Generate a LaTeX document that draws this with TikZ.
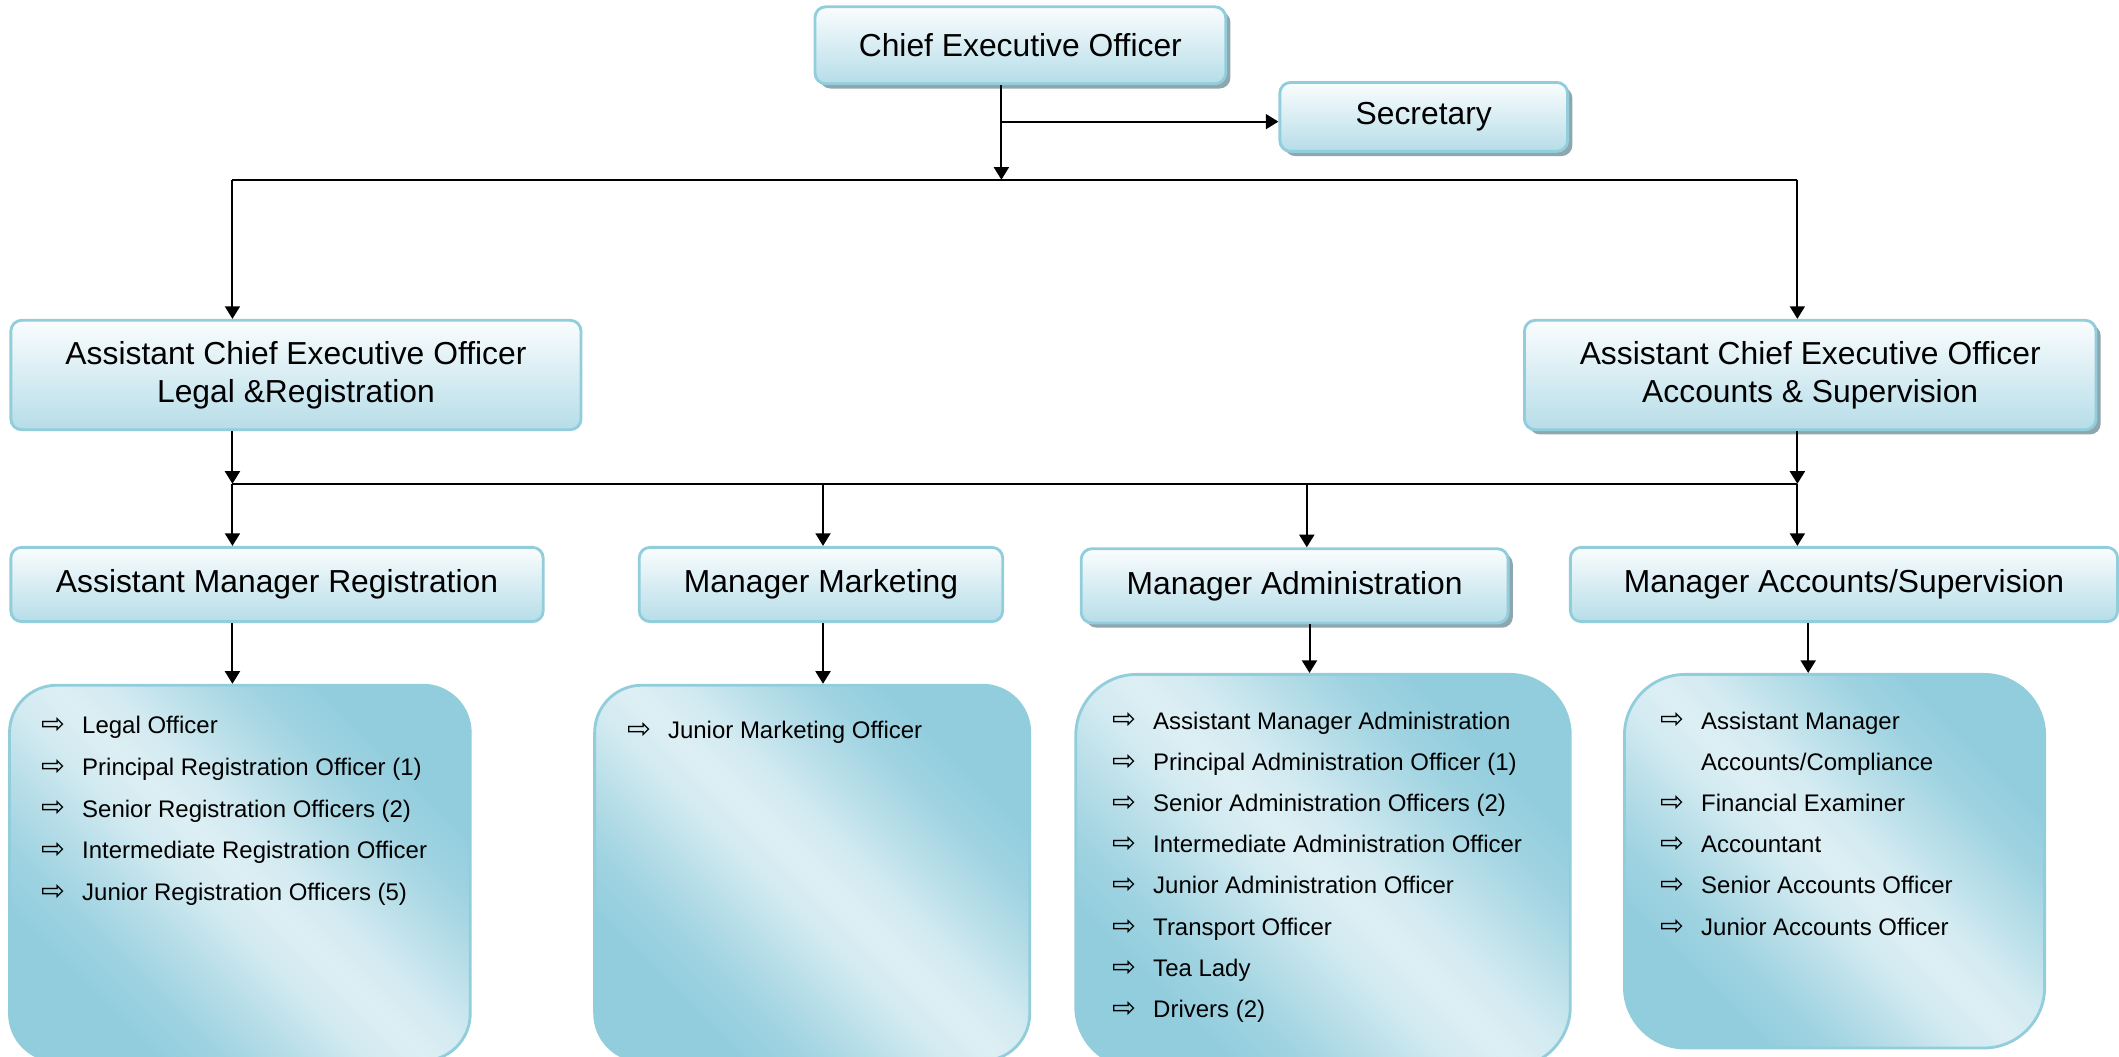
\documentclass[tikz,border=0pt]{standalone}
\usepackage{fontspec}
\setmainfont{Liberation Sans}
\newfontfamily\symbfont{DejaVu Sans}
\usetikzlibrary{arrows.meta,shadows}
\definecolor{boxline}{RGB}{146,205,220}
\definecolor{boxtop}{RGB}{250,253,254}
\definecolor{boxbot}{RGB}{182,221,232}
\definecolor{listdark}{RGB}{146,205,221}
\definecolor{listlight}{RGB}{221,239,244}
\definecolor{shadowgray}{RGB}{142,166,174}
\pgfdeclareverticalshading{listfade}{100bp}{color(0bp)=(listdark); color(27bp)=(listdark); color(33bp)=(listdark!82!listlight); color(39bp)=(listdark!50!listlight); color(45bp)=(listdark!15!listlight); color(50bp)=(listlight); color(55bp)=(listdark!15!listlight); color(61bp)=(listdark!50!listlight); color(67bp)=(listdark!82!listlight); color(73bp)=(listdark); color(100bp)=(listdark)}
\begin{document}
\begin{tikzpicture}[x=0.02cm,y=-0.02cm,>={Triangle[length=5.3pt,width=6.3pt]},
	post/.style={draw=boxline,line width=1.2pt,rounded corners=0.16cm,top color=boxtop,bottom color=boxbot,inner sep=0pt,align=center,font=\fontsize{13.4}{16}\selectfont},
	lifted/.style={drop shadow={shadow xshift=0.07cm,shadow yshift=-0.07cm,fill=shadowgray,opacity=1}},
	staff/.style={draw=boxline,line width=1.2pt,shading=listfade,shading angle=-45,inner sep=0pt},
	link/.style={line width=0.85pt},
	duty/.style={anchor=base west,inner sep=0pt,font=\fontsize{10.1}{12}\selectfont},
	bul/.style={inner sep=0pt,font=\symbfont\fontsize{12}{12}\selectfont}]
	\useasboundingbox (0,0) rectangle (1568,782);
	% boxes
	\node[post,lifted,minimum width=6.08cm,minimum height=1.14cm] (ceo) at (755,33.5) {Chief Executive Officer};
	\node[post,lifted,minimum width=4.26cm,minimum height=1.02cm] (sec) at (1053.5,86.5) {Secretary};
	\node[post,minimum width=8.44cm,minimum height=1.62cm] (aceoL) at (219,277.5) {Assistant Chief Executive Officer\\Legal \&Registration};
	\node[post,lifted,minimum width=8.46cm,minimum height=1.62cm] (aceoR) at (1339.5,277.5) {Assistant Chief Executive Officer\\Accounts \& Supervision};
	\node[post,minimum width=7.88cm,minimum height=1.1cm] (amr) at (205,432.5) {Assistant Manager Registration};
	\node[post,minimum width=5.38cm,minimum height=1.1cm] (mmk) at (607.5,432.5) {Manager Marketing};
	\node[post,lifted,minimum width=6.32cm,minimum height=1.1cm] (madm) at (958,433.5) {Manager Administration};
	\node[post,minimum width=8.1cm,minimum height=1.1cm] (macc) at (1364.5,432.5) {Manager Accounts/Supervision};
	% staff lists
	\node[staff,rounded corners=0.7cm,minimum width=6.82cm,minimum height=5.56cm] (regList) at (177.5,646) {};
	\node[staff,rounded corners=0.7cm,minimum width=6.44cm,minimum height=5.56cm] (mktList) at (601,646) {};
	\node[staff,rounded corners=0.9cm,minimum width=7.32cm,minimum height=5.82cm] (admList) at (979,644.5) {};
	\node[staff,rounded corners=0.9cm,minimum width=6.22cm,minimum height=5.53cm] (accList) at (1357.5,637.25) {};
	\foreach \job [count=\i from 0] in {Legal Officer,Principal Registration Officer (1),Senior Registration Officers (2),Intermediate Registration Officer,Junior Registration Officers (5)}{
		\node[bul] (regB\i) at (39.5,537+30.8*\i) {⇨};
		\node[duty] (reg\i) at (60.5,543+30.8*\i) {\job};
	}
	\node[bul] (mktB0) at (473.5,540.5) {⇨};
	\node[duty] (mkt0) at (494,546.5) {Junior Marketing Officer};
	\foreach \job [count=\i from 0] in {Assistant Manager Administration,Principal Administration Officer (1),Senior Administration Officers (2),Intermediate Administration Officer,Junior Administration Officer,Transport Officer,Tea Lady,Drivers (2)}{
		\node[bul] (admB\i) at (832,533.5+30.5*\i) {⇨};
		\node[duty] (adm\i) at (853,539.5+30.5*\i) {\job};
	}
	\foreach \i/\job in {0/Assistant Manager,2/Financial Examiner,3/Accountant,4/Senior Accounts Officer,5/Junior Accounts Officer}{
		\node[bul] (accB\i) at (1237.5,533.5+30.5*\i) {⇨};
		\node[duty] (acc\i) at (1258.5,539.5+30.5*\i) {\job};
	}
	\node[duty] (acc1) at (1258.5,570) {Accounts/Compliance};
	% connectors
	\coordinate (hub) at (741,133);
	\coordinate (secJoin) at (741,90);
	\draw[link,->] (ceo.south -| hub) -- (hub);
	\draw[link,->] (secJoin) -- (secJoin -| sec.west);
	\coordinate (busL) at (172,133);
	\coordinate (busR) at (1330,133);
	\draw[link] (busL) -- (busR);
	\draw[link,->] (busL) -- (busL |- aceoL.north);
	\draw[link,->] (busR) -- (busR |- aceoR.north);
	\coordinate (midL) at (172,358);
	\coordinate (midR) at (1330,358);
	\draw[link,->] (midL |- aceoL.south) -- (midL);
	\draw[link,->] (midR |- aceoR.south) -- (midR);
	\draw[link] (midL) -- (midR);
	\foreach \x/\n in {172/amr,609/mmk,967/madm,1330/macc}{
		\coordinate (drop) at (\x,358);
		\draw[link,->] (drop) -- (drop |- \n.north);
	}
	\foreach \x/\a/\b in {172/amr/regList,609/mmk/mktList,969/madm/admList,1338/macc/accList}{
		\coordinate (col) at (\x,0);
		\draw[link,->] (col |- \a.south) -- (col |- \b.north);
	}
\end{tikzpicture}
\end{document}
